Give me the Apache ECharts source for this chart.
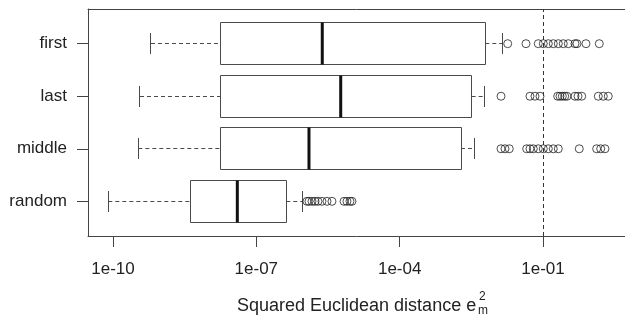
<!DOCTYPE html>
<html>
<head>
<meta charset="utf-8">
<script src="https://cdn.jsdelivr.net/npm/echarts@6/dist/echarts.min.js"></script>
<style>
html,body{margin:0;padding:0;background:#fff;}
#chart{width:625px;height:320px;}
</style>
</head>
<body>
<div id="chart"></div>
<script>
// Values are log10 of the squared Euclidean distance
const categories = ['first', 'last', 'middle', 'random'];
const lowWhisker = [-9.205, -9.435, -9.47, -10.098];
const q1 = [-7.754, -7.754, -7.754, -8.374];
const median = [-5.62, -5.234, -5.898, -7.398];
const q3 = [-2.208, -2.493, -2.717, -6.373];
const highWhisker = [-1.852, -2.235, -2.438, -6.03];
const outliersFirst = [-1.739, -1.356, -1.099, -0.994, -0.889, -0.785, -0.680, -0.576, -0.471, -0.331, -0.289, -0.101, 0.178];
const outliersLast = [-1.879, -1.273, -1.168, -1.063, -0.693, -0.645, -0.596, -0.546, -0.498, -0.331, -0.268, -0.190, 0.157, 0.262, 0.366];
const outliersMiddle = [-1.879, -1.796, -1.706, -1.342, -1.273, -1.203, -1.099, -0.994, -0.889, -0.785, -0.680, -0.241, 0.123, 0.207, 0.297];
const outliersRandom = [-5.940, -5.898, -5.835, -5.772, -5.710, -5.626, -5.521, -5.417, -5.165, -5.103, -5.040, -4.998];
const tickExponents = [-10, -7, -4, -1];
const tickLabels = ['1e-10', '1e-07', '1e-04', '1e-01'];
const thresholdExponent = -1;

const outliers = [outliersFirst, outliersLast, outliersMiddle, outliersRandom];
const posOf = i => categories.length - i;
const FONT = "'Liberation Sans', Arial, sans-serif";

const boxData = categories.map((c, i) => [posOf(i), lowWhisker[i], q1[i], median[i], q3[i], highWhisker[i]]);
const outlierData = [];
outliers.forEach((arr, i) => arr.forEach(v => outlierData.push([v, posOf(i)])));

const crisp = v => Math.round(v - 0.5) + 0.5;

function renderBox(params, api) {
  const p = api.value(0);
  const low = api.value(1), a = api.value(2), m = api.value(3), b = api.value(4), high = api.value(5);
  const yC = crisp(api.coord([0, p])[1]);
  const halfH = api.size([0, 0.4])[1];
  const capH = api.size([0, 0.2])[1];
  const X = v => api.coord([v, p])[0];
  const grey = '#4a4a4a';
  return {
    type: 'group',
    children: [
      { type: 'line', shape: { x1: X(low), y1: yC, x2: X(a), y2: yC }, style: { stroke: grey, lineWidth: 1, lineDash: [4, 3] } },
      { type: 'line', shape: { x1: X(b), y1: yC, x2: X(high), y2: yC }, style: { stroke: grey, lineWidth: 1, lineDash: [4, 3] } },
      { type: 'line', shape: { x1: crisp(X(low)), y1: yC - capH, x2: crisp(X(low)), y2: yC + capH }, style: { stroke: grey, lineWidth: 1 } },
      { type: 'line', shape: { x1: crisp(X(high)), y1: yC - capH, x2: crisp(X(high)), y2: yC + capH }, style: { stroke: grey, lineWidth: 1 } },
      { type: 'rect', shape: { x: crisp(X(a)), y: crisp(yC - halfH), width: Math.round(X(b) - X(a)), height: Math.round(2 * halfH) }, style: { fill: '#fff', stroke: grey, lineWidth: 1 } },
      { type: 'line', shape: { x1: X(m), y1: crisp(yC - halfH), x2: X(m), y2: crisp(yC + halfH) }, style: { stroke: '#111', lineWidth: 3 } }
    ]
  };
}

const frameLine = { show: true, onZero: false, lineStyle: { color: '#444', width: 1 } };

const chart = echarts.init(document.getElementById('chart'), null, { renderer: 'canvas' });
chart.setOption({
  animation: false,
  backgroundColor: '#fff',
  grid: { left: 88, top: 9, right: 0, bottom: 84, show: false },
  xAxis: [
    {
      type: 'value', min: -10.523, max: 0.716, position: 'bottom',
      axisLine: frameLine,
      splitLine: { show: false },
      axisTick: { show: true, length: 11, lineStyle: { color: '#444', width: 1 }, customValues: tickExponents },
      axisLabel: {
        customValues: tickExponents, margin: 25, fontSize: 17, color: '#222', fontFamily: FONT,
        formatter: v => tickLabels[tickExponents.indexOf(Math.round(v))] || ''
      }
    },
    {
      type: 'value', min: -10.523, max: 0.716, position: 'top',
      axisLine: frameLine, axisTick: { show: false }, axisLabel: { show: false }, splitLine: { show: false }
    }
  ],
  yAxis: {
    type: 'value', min: 0.34, max: 4.66, position: 'left',
    axisLine: frameLine,
    splitLine: { show: false },
    axisTick: { show: true, length: 11, lineStyle: { color: '#444', width: 1 }, customValues: [1, 2, 3, 4] },
    axisLabel: {
      customValues: [1, 2, 3, 4], margin: 21, fontSize: 17, color: '#222', fontFamily: FONT,
      formatter: v => categories[categories.length - Math.round(v)] || ''
    }
  },
  series: [
    {
      type: 'custom', renderItem: renderBox, data: boxData, xAxisIndex: 0,
      encode: { x: [1, 2, 3, 4, 5], y: 0 }, silent: true, z: 2
    },
    {
      type: 'scatter', data: outlierData, xAxisIndex: 0, symbol: 'circle', symbolSize: 8, silent: true, z: 3,
      itemStyle: { color: 'rgba(255,255,255,0)', borderColor: '#222', borderWidth: 1 }
    },
    {
      type: 'line', data: [], xAxisIndex: 0, silent: true, z: 4,
      markLine: {
        silent: true, symbol: ['none', 'none'], label: { show: false },
        lineStyle: { color: '#333', width: 1, type: [4, 3] },
        data: [{ xAxis: thresholdExponent }]
      }
    }
  ],
  graphic: [
    { type: 'text', left: 237, top: 297, silent: true,
      style: { text: 'Squared Euclidean distance e', font: "18px 'Liberation Sans', Arial, sans-serif", fill: '#222' } },
    { type: 'text', left: 479, top: 291, silent: true,
      style: { text: '2', font: "12px 'Liberation Sans', Arial, sans-serif", fill: '#222' } },
    { type: 'text', left: 478, top: 305, silent: true,
      style: { text: 'm', font: "12px 'Liberation Sans', Arial, sans-serif", fill: '#222' } }
  ]
});
</script>
</body>
</html>
